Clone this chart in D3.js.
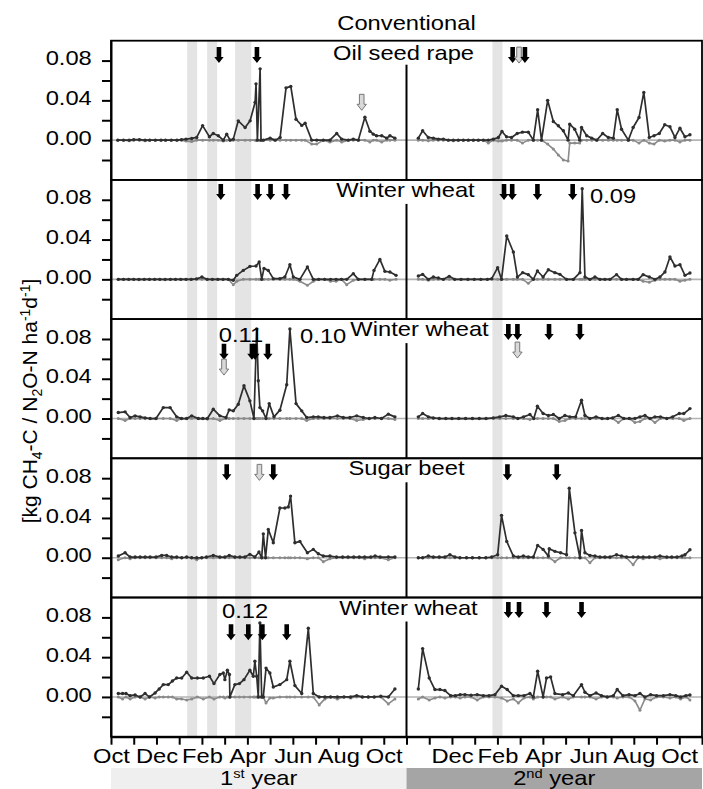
<!DOCTYPE html>
<html lang="en">
<head>
  <meta charset="UTF-8">
  <title>Conventional – CH4-C / N2O-N fluxes</title>
  <style>
    html, body {
      margin: 0;
      padding: 0;
      background: #fff;
    }

    svg {
      display: block;
      font-family: "Liberation Sans", Arial, sans-serif;
    }

    .band { fill: #e4e4e4; }
    .zero { stroke: #b4b4b4; stroke-width: 1.6; }
    .n2o { fill: none; stroke: #2e2e2e; stroke-width: 1.7; stroke-linejoin: round; }
    .n2o-dot { fill: #2e2e2e; }
    .ch4 { fill: none; stroke: #8a8a8a; stroke-width: 1.6; stroke-linejoin: round; }
    .ch4-dot { fill: #8a8a8a; }
    .frame { fill: none; stroke: #000; stroke-width: 1.8; }
    .divider { stroke: #000; stroke-width: 2; }
    .arrow-b { fill: #000; }
    .arrow-g { fill: #d9d9d9; stroke: #777; stroke-width: 1; }
    .axis path, .axis line { stroke: #000; stroke-width: 2; }
    text { font-size: 21px; fill: #000; }
  </style>
</head>
<body>
  <script src="https://d3js.org/d3.v7.min.js"></script>
  <script>
    // month index: 0 = Oct of the 1st year ... 13 = Oct of the 2nd year ... 26 = Nov
    const panelTitles = ['Oil seed rape', 'Winter wheat', 'Winter wheat', 'Sugar beet', 'Winter wheat']

    const bandStarts = [3.35, 4.23, 5.46, 16.78]
    const bandEnds   = [3.79, 4.67, 6.17, 17.22]

    const tickMonths = [0, 2, 4, 6, 8, 10, 12, 15, 17, 19, 21, 23, 25]
    const tickLabels = ['Oct', 'Dec', 'Feb', 'Apr', 'Jun', 'Aug', 'Oct', 'Dec', 'Feb', 'Apr', 'Jun', 'Aug', 'Oct']
    const yTicks = [-0.02, 0, 0.02, 0.04, 0.06, 0.08]
    const yLabelled = [0, 0.04, 0.08]

    // ---- Oil seed rape
    const p1Months = [
      0.3,0.55,0.8,1.0,1.25,1.5,1.7,1.95,2.2,2.4, 2.65,2.9,3.1,3.3,3.55,3.77,4.03,4.33,4.5,4.72,
      4.94,5.09,5.24,5.38,5.6,5.9,6.12,6.34,6.38,6.44, 6.56,6.6,6.7,7.0,7.22,7.44,7.7,7.91,8.14,8.39,
      8.54,8.83,9.05,9.34,9.63,9.93,10.15,10.44,10.66,10.88, 11.17,11.39,11.54,11.68,11.91,12.13,12.27,12.49,
      13.52,13.71,13.96,14.18,14.4,14.62,14.84,15.06,15.28,15.5, 15.72,15.94,16.16,16.38,16.6,16.82,17.04,17.2,17.4,17.62,
      17.87,18.1,18.36,18.58,18.77,18.94,19.21,19.46,19.68,19.9, 20.11,20.18,20.4,20.62,20.7,20.93,21.15,21.37,21.63,21.88,
      22.1,22.27,22.46,22.76,22.97,23.23,23.44,23.68,23.89,24.12, 24.36,24.59,24.81,25.03,25.25,25.47
    ]
    const p1N2O = [
      0,0,0,0.0005,0.0005,0,0,0,0,0, 0,0,0.0005,0.001,0.0017,0.0027,0.0146,0.0034,0.0067,0.0044,
      0,0.006,0,0.001,0.0194,0.0127,0.0194,0.038,0.0566,0, 0.0717,0,0,0.002,0,0.0027,0.0526,0.054,0.021,0.0148,
      0.017,0,0,0,0,0.0067,0.001,0,0.001,0, 0.023,0.009,0.006,0.0044,0.0044,0.002,0.0044,0.002,
      0.002,0.0094,0.0027,0.002,0.001,0.001,0,0,0,0, 0,0,0,0,0,0.001,0.0027,0.0087,0.0034,0.0027,
      0.0067,0.008,0.008,0,0.0305,0,0.040,0.0188,0.0144,0.0094, 0,0.016,0.011,0,0.0127,0.0044,0.002,0,0.0067,0.0027,
      0.002,0.0305,0.011,0,0.0127,0.0228,0.048,0.0027,0.0044,0.0067, 0.0154,0.0134,0.0027,0.012,0.0034,0.0054
    ]
    const p1CH4 = [
      0,0,-0.0005,0,0,-0.0005,0,0,0,0, 0,0,0,-0.001,-0.0015,0,0,0,0,0,
      -0.001,0,0,0,0,0,0,0,0,0, 0,0,0,0,0,0,0,0,0,0,
      0,-0.004,-0.004,0,-0.002,0,-0.002,0,0,0, 0,-0.002,0,0,-0.002,0,0,0,
      0,0,-0.0005,0,0,0,0,-0.0005,0,0, 0,0,0,0,-0.003,0,-0.001,-0.001,0,0,
      0,-0.003,0,0,0,0,-0.004,-0.009,-0.015,-0.02, -0.021,-0.003,-0.003,-0.003,0,0,0,0,0,0,
      0,0,0,0,0,-0.003,0,-0.003,-0.004,0, -0.001,0,0,-0.002,0,0
    ]
    const p1Arrows = [[4.75,'b',0.0775],[6.42,'b',0.0775],[11.03,'g',0.030],[17.67,'b',0.0775],[17.95,'g',0.0775],[18.21,'b',0.0775]]

    // ---- Winter wheat (2)
    const p2Months = [
      0.32,0.55,0.78,1.0,1.23,1.46,1.69,1.92,2.15,2.38, 2.61,2.84,3.07,3.3,3.53,3.76,4.0,4.23,4.46,4.7,
      4.93,5.16,5.38,5.53,5.82,6.11,6.38,6.52,6.63,6.73, 6.92,7.14,7.43,7.65,7.87,8.02,8.31,8.64,8.9,9.14,
      9.4,9.66,9.9,10.14,10.37,10.66,10.88,11.17,11.47,11.57, 11.83,12.05,12.27,12.54,
      13.52,13.71,13.96,14.18,14.4,14.62,14.88,15.12,15.4,15.7, 15.98,16.27,16.56,16.75,17.01,17.18,17.41,17.7,17.88,18.11,
      18.36,18.58,18.76,19.01,19.24,19.53,19.75,20.04,20.34,20.63, 20.73,20.85,21.07,21.29,21.51,21.73,21.95,22.24,22.46,22.68,
      22.97,23.19,23.41,23.68,23.93,24.15,24.37,24.59,24.81,25.03, 25.25,25.47
    ]
    const p2N2O = [
      0,0,0,0,0,0,0,0,0,0, 0,0,0,0,0,0.0005,0.0023,0,0,0,
      0,0,-0.001,0.004,0.009,0.013,0.0134,0.0174,0,0.011, 0.009,0.0007,0.0007,0.0023,0.0147,0.0023,0,0.0124,0,0,
      0,0,0,0,0,0.0057,0,0,0,0.009, 0.020,0.008,0.0074,0.004,
      0.0034,0.005,0,0.0023,0.0013,0,0.003,0,0,0, 0,0,0,0.0007,0.0117,0,0.0436,0.0275,0.0023,0.0067,
      0.0047,0,0.0084,0.0023,0.0097,0.0067,0.005,0,0,0.0067, 0.0912,0.0023,0,0.0023,0,0,0,0.0047,0,0,
      0,0,0.0047,0.0023,0,0.0023,0.0074,0.0225,0.0134,0.0147, 0.004,0.0064
    ]
    const p2CH4 = [
      0,0,0,0,-0.0005,0,0,0,0,-0.0005, 0,0,0,0,0,0,0,0,0,0,
      0,0,-0.0054,-0.002,0,0,0,0,0,0, 0,0,0,0,0,0,-0.002,-0.006,-0.002,0,
      0,-0.002,-0.002,0,-0.0054,-0.001,0,0,0,0, 0,0,-0.001,0,
      0,0,-0.001,0,0,0,0,0,0,0, 0,0,0,0,0,0,0,0,0,0,
      -0.004,0,0,0,0,0,0,0,0,0, 0,0,0,0,0,0,0,0,0,0,
      0,0,-0.002,-0.003,-0.001,0,0,0,0,-0.002, -0.001,0
    ]
    const p2Arrows = [[4.83,'b',0.0798],[6.45,'b',0.0798],[7.02,'b',0.0798],[7.7,'b',0.0798],
      [17.29,'b',0.0798],[17.65,'b',0.0798],[18.76,'b',0.0798],[20.31,'b',0.0798]]

    // ---- Winter wheat (3)
    const p3Months = [
      0.32,0.62,0.84,1.06,1.28,1.5,1.72,1.98,2.3,2.6, 2.89,3.1,3.33,3.55,3.84,4.04,4.24,4.5,4.79,5.06,
      5.2,5.38,5.6,5.85,6.11,6.29,6.41,6.48,6.55,6.67, 6.82,6.96,7.17,7.43,7.73,7.87,8.14,8.39,8.61,8.9,
      9.12,9.37,9.63,9.96,10.22,10.51,10.81,11.1,11.36,11.61, 11.9,12.2,12.49,
      13.52,13.71,13.96,14.18,14.44,14.73,15.0,15.3,15.6,15.9, 16.2,16.5,16.82,17.1,17.37,17.7,17.9,18.15,18.43,18.6,
      18.76,19.01,19.24,19.46,19.72,19.97,20.19,20.44,20.7,20.85, 21.07,21.34,21.6,21.85,22.07,22.32,22.56,22.8,23.05,23.27,
      23.49,23.71,23.93,24.17,24.45,24.71,25.0,25.2,25.47
    ]
    const p3N2O = [
      0.006,0.0067,0.001,0.0027,0.0017,0.0007,0,0,0.011,0.011, 0.0017,0,0,0.0027,0,0,0,0.0094,0.0027,0.001,
      0.0087,0.0077,0.0144,0.0329,0.0178,0,0.09,0.038,0.011,0.0077, 0,0.015,0.0017,0.0084,0.0339,0.09,0.015,0.0077,0.001,0.0017,
      0.0017,0.001,0.001,0.0027,0.001,0.001,0.0027,0.001,0,0.001, 0,0.0044,0.0017,
      0.0017,0.005,0.0017,0.0007,0,0,0,0,0,0, 0,0,0.0007,0.0017,0.003,0.0017,0,0.0017,0.004,0,
      0.0124,0.005,0.003,0.004,0,0.003,0.0017,0.0017,0.0184,0.003, 0,0.0017,0,0,0.0007,0.003,0,0,0,0.0017,
      0.003,0,0.0017,0.0017,0,0.0017,0.005,0.005,0.01
    ]
    const p3CH4 = [
      0,-0.002,0,0,0,0,0,0,0,0, -0.002,0,0,0,0,0,-0.0005,0,-0.002,0,
      0,0,0,0,0,0,0,0,0,0, 0,0,0,0,0,0,0,0,-0.002,0,
      0,0,0,0,0,0,-0.002,-0.001,0,0, 0,0,-0.001,
      0,0,0,0,0,0,0,0,0,0, 0,0,0,0,0,0,0,0,-0.001,0,
      0,0,0,0,-0.003,-0.002,0,0,0,0, 0,0,0,0,0,-0.004,0,0,-0.004,-0.003,
      0,0,-0.004,0,0,0,0,-0.002,0
    ]
    const p3Arrows = [[4.97,'b',0.059],[4.97,'g',0.0437],[6.2,'b',0.059],[6.33,'b',0.059],[6.9,'b',0.059],
      [17.48,'b',0.079],[17.88,'b',0.079],[17.88,'g',0.0608],[19.27,'b',0.079],[20.63,'b',0.079]]

    // ---- Sugar beet
    const p4Months = [
      0.32,0.62,0.84,1.06,1.28,1.5,1.72,1.98,2.23,2.45, 2.67,2.89,3.11,3.33,3.55,3.77,3.99,4.2,4.5,4.79,
      5.01,5.2,5.45,5.67,5.89,6.11,6.33,6.51,6.63,6.7, 6.8,6.92,7.14,7.43,7.65,7.8,7.9,8.09,8.31,8.64,
      8.9,9.12,9.34,9.63,9.92,10.19,10.43,10.68,10.92,11.16, 11.43,11.62,11.84,12.2,12.49,
      13.52,13.71,13.96,14.18,14.44,14.69,14.91,15.13,15.35,15.64, 15.9,16.2,16.49,16.75,17.01,17.18,17.41,17.7,17.92,18.14,
      18.36,18.58,18.77,19.01,19.24,19.28,19.53,19.78,20.04,20.16, 20.41,20.63,20.7,20.85,21.07,21.29,21.51,21.73,21.95,22.24,
      22.46,22.68,22.97,23.19,23.41,23.68,23.93,24.15,24.45,24.67, 24.9,25.12,25.25,25.47
    ]
    const p4N2O = [
      0.0017,0.005,0.0007,0.0007,0.0007,0.0007,0.0007,0.0007,0.0023,0.0023, 0.0007,0.0007,0,0.0007,0,0,0,0.0007,0.0023,0.0007,
      0.0007,0.0023,0.0007,0.0007,0.0007,0.0034,0.0007,0.0057,0,0.024, 0,0.0285,0.015,0.050,0.050,0.051,0.062,0.015,0.0164,0.005,
      0.0084,0.004,0.0017,0.0017,0.0007,0.0007,0.0007,0.0007,0.0007,0.0007, 0.0007,0.0017,0.0007,0.0007,0.0007,
      0,0,0.0017,0.0007,0.0007,0.0007,0.003,0.0007,0,0, 0,0,0,0.0007,0.003,0.0426,0.0164,0.0017,0.0007,0.0017,
      0.0007,0.0007,0.0124,0.0084,0.0017,0.009,0.0064,0.005,0.003,0.070, 0.025,0,0.0275,0.005,0.0023,0.0017,0.0007,0.0007,0.0007,0.003,
      0.0017,0.0007,0.0007,0.0007,0.0007,0.0007,0.0007,0.0017,0.0007,0.0007, 0.0007,0.0017,0.003,0.008
    ]
    const p4CH4 = [
      -0.002,0,-0.001,0,0,0,0,0,0,0, -0.001,0,0,0,0,-0.002,0,0,0,0,
      0,0,0,0,0,0,0,0,0,0, 0,0,0,0,0,0,0,0,0,-0.001,
      0,0,-0.004,-0.001,0,0,0,0,0,-0.001, 0,0,0,-0.002,0,
      0,0,0,0,0,0,0,0,0,0, 0,0,0,0,0,0,0,0,0,0,
      0,0,0,0,0,0,-0.004,0,0,0, 0,0,0,0,-0.005,0,0,0,0,0,
      0,0,-0.007,0,-0.001,0,0,-0.001,0,0, 0,0,0,0
    ]
    const p4Arrows = [[5.09,'b',0.0778],[6.53,'g',0.0778],[7.14,'b',0.0778],[17.44,'b',0.0778],[19.61,'b',0.0778]]

    // ---- Winter wheat (5)
    const p5Months = [
      0.32,0.51,0.66,0.84,1.06,1.28,1.5,1.69,1.94,2.12, 2.3,2.52,2.7,2.89,3.11,3.33,3.55,3.8,4.06,4.33,
      4.53,4.79,4.94,5.01,5.12,5.21,5.23,5.45,5.65,5.85, 6.11,6.26,6.33,6.41,6.48,6.55,6.63,6.7,6.82,6.99,
      7.14,7.43,7.73,7.87,8.09,8.39,8.68,8.9,9.16,9.41, 9.66,9.96,10.25,10.54,10.81,11.06,11.32,11.58,11.87,12.2,
      12.49,
      13.52,13.71,14.0,14.25,14.47,14.69,14.94,15.15,15.36,15.57, 15.84,16.11,16.38,16.63,16.89,17.18,17.43,17.7,17.92,18.17,
      18.43,18.58,18.77,19.01,19.16,19.34,19.53,19.87,20.12,20.34, 20.7,20.85,21.07,21.34,21.58,21.83,22.1,22.27,22.52,22.79,
      23.05,23.27,23.49,23.74,24.0,24.3,24.59,24.85,25.06,25.29, 25.47
    ]
    const p5N2O = [
      0.0034,0.0034,0.0034,0.0013,0.002,0,0.0034,0,0.004,0.008, 0.0124,0.0124,0.016,0.019,0.019,0.0248,0.019,0.019,0.019,0.0208,
      0.0134,0.0225,0.024,0.0174,0.0268,0.0225,0,0.0124,0.0134,0.0174, 0.0268,0.0208,0.0359,0.0208,0,0.0744,0,0,0.029,0.024,
      0.010,0.0124,0.0174,0.0359,0.0114,0.0034,0.069,0.0034,0,0, 0,0,0,0,0.0013,0,0,0,0.0007,0,
      0.008,
      0.008,0.0486,0.019,0.0074,0.0074,0.0064,0.0013,0.0013,0.0023,0.0023, 0.0017,0.0023,0.0013,0.0013,0.0023,0.0107,0.0074,0.0013,0.0013,0.0013,
      0.0034,0,0.0258,0,0.019,0.020,0.0034,0.0023,0.004,0.0013, 0.0124,0.0047,0.0013,0.004,0.0013,0,0.0013,0.0074,0.0013,0.0023,
      0.0013,0.0034,0,0.0023,0.0013,0.0013,0.0023,0.0013,0,0.0013, 0.002
    ]
    const p5CH4 = [
      0,-0.002,0,-0.002,0,0,-0.002,0,-0.001,0, 0,0,0,-0.002,-0.002,-0.003,-0.002,0,-0.002,0,
      -0.002,0,0,-0.001,0,0,0,0,0,0, 0,0,0,0,0,0,0,0,-0.006,-0.001,
      -0.001,0,0,0,0,0,0,0,-0.008,-0.002, 0,-0.002,0,-0.001,0,0,0,0,0,-0.007,
      -0.002,
      -0.002,0,-0.003,-0.001,0,-0.001,0,0,-0.001,0, 0,-0.003,0,0,0,-0.001,-0.004,-0.002,-0.006,-0.001,
      0,-0.002,0,0,0,0,-0.002,0,-0.002,0, 0,0,0,-0.002,0,0,0,-0.001,0,0,
      -0.004,-0.0134,-0.002,-0.003,0,0,-0.001,0,-0.002,0, -0.003
    ]
    const p5Arrows = [[5.28,'b',0.0571],[6.04,'b',0.0571],[6.66,'b',0.0571],[7.73,'b',0.0571],
      [17.48,'b',0.0793],[17.95,'b',0.0793],[19.16,'b',0.0793],[20.7,'b',0.0793]]

    // values of the spikes that run off the drawn range: [panel, month, value, text, anchor]
    const spikeNotes = [
      [1, 21.07, 0.0767, '0.09', 'start'],
      [2, 5.72, 0.0771, '0.11', 'middle'],
      [2, 8.32, 0.0758, '0.10', 'start'],
      [4, 5.9, 0.079, '0.12', 'middle']
    ]

    const panels = [
      [p1Months, p1N2O, p1CH4, p1Arrows],
      [p2Months, p2N2O, p2CH4, p2Arrows],
      [p3Months, p3N2O, p3CH4, p3Arrows],
      [p4Months, p4N2O, p4CH4, p4Arrows],
      [p5Months, p5N2O, p5CH4, p5Arrows]
    ]

    const svgW = 703,
          svgH = 789,
          plotL = 111,
          plotR = 702,
          plotT = 40.7,
          panelH = 139.2,
          plotB = plotT + 5 * panelH,
          stretch = 1.13   // the glyphs of the original are a bit wider than Arial

    // small nudges of the panel titles (px); the third one makes room for "0.10"
    const titleNudge = [-3, -1, 13, 0, 2]

    const svg = d3.select('body').append('svg')
      .attr('width', svgW)
      .attr('height', svgH)

    const x = d3.scaleLinear().domain([0, 26]).range([plotL, plotR])

    const addText = (g, str, px, py, anchor) => g.append('text')
      .attr('transform', `translate(${px},${py}) scale(${stretch},1)`)
      .attr('text-anchor', anchor)
      .text(str)

    // grey bands behind everything
    svg.append('g').selectAll('rect')
      .data(bandStarts)
      .join('rect')
        .attr('class', 'band')
        .attr('x', d => x(d))
        .attr('width', (d, i) => x(bandEnds[i]) - x(d))
        .attr('y', plotT)
        .attr('height', plotB - plotT)

    const drawArrow = (g, cx, tipY, kind) => {
      const d = `M${cx - 2.3},${tipY - 16} h4.6 v10 h2.4 L${cx},${tipY} L${cx - 4.7},${tipY - 6} h2.4 Z`
      g.append('path').attr('d', d).attr('class', kind === 'b' ? 'arrow-b' : 'arrow-g')
    }

    panels.forEach(([months, n2o, ch4, arrows], i) => {
      if (months.length !== n2o.length || months.length !== ch4.length) {
        throw new Error(`panel ${i + 1}: ${months.length} months, ${n2o.length} n2o, ${ch4.length} ch4`)
      }
      const y0 = plotT + i * panelH
      const y = d3.scaleLinear().domain([-0.04, 0.10]).range([y0 + panelH, y0])
      const g = svg.append('g')

      g.append('line').attr('class', 'zero')
        .attr('x1', plotL).attr('x2', plotR)
        .attr('y1', y(0)).attr('y2', y(0))

      const rows = months.map((m, k) => ({ m, n2o: n2o[k], ch4: ch4[k] }))
      const halves = [rows.filter(d => d.m < 13), rows.filter(d => d.m >= 13)]

      ;['ch4', 'n2o'].forEach(key => {
        const line = d3.line().x(d => x(d.m)).y(d => y(d[key]))
        halves.forEach(half => {
          g.append('path').datum(half).attr('class', key).attr('d', line)
          g.append('g').selectAll('circle')
            .data(half)
            .join('circle')
              .attr('class', `${key}-dot`)
              .attr('cx', d => x(d.m))
              .attr('cy', d => y(d[key]))
              .attr('r', key === 'n2o' ? 1.7 : 1.5)
        })
      })

      g.append('rect').attr('class', 'frame')
        .attr('x', plotL).attr('y', y0)
        .attr('width', plotR - plotL).attr('height', panelH)

      g.append('line').attr('class', 'divider')
        .attr('x1', x(13)).attr('x2', x(13))
        .attr('y1', y0 + 24).attr('y2', y0 + panelH)

      arrows.forEach(([m, kind, v]) => drawArrow(g, x(m), y(v), kind))

      addText(g, panelTitles[i], x(13) + titleNudge[i], y0 + (i === 0 ? 19 : 17), 'middle')

      spikeNotes.filter(n => n[0] === i)
        .forEach(([, m, v, str, anchor]) => addText(g, str, x(m), y(v), anchor))

      const axis = g.append('g').attr('class', 'axis')
        .attr('transform', `translate(${plotL},0)`)
        .call(d3.axisLeft(y)
          .tickValues(yTicks)
          .tickSize(9)
          .tickSizeOuter(0)
          .tickPadding(8)
          .tickFormat(d => yLabelled.includes(d) ? d3.format('.2f')(d) : ''))
      axis.selectAll('text')
        .attr('font-family', null).attr('font-size', null)
        .attr('dy', '0.2em')
        .attr('transform', `scale(${stretch},1)`)
    })

    // month axis
    const xAxis = svg.append('g').attr('class', 'axis')
      .attr('transform', `translate(0,${plotB})`)
      .call(d3.axisBottom(x)
        .tickValues(d3.range(0, 27))
        .tickSize(8)
        .tickSizeOuter(0)
        .tickPadding(3)
        .tickFormat(d => {
          const k = tickMonths.indexOf(d)
          return k < 0 ? '' : tickLabels[k]
        }))
    xAxis.selectAll('text')
      .attr('font-family', null).attr('font-size', null)
      .attr('transform', `scale(${stretch},1)`)

    // year bar
    const years = svg.append('g')
    years.append('rect').attr('x', x(0)).attr('y', 768).attr('width', x(13) - x(0)).attr('height', 21).attr('fill', '#efefef')
    years.append('rect').attr('x', x(13)).attr('y', 768).attr('width', x(26) - x(13)).attr('height', 21).attr('fill', '#a5a5a5')
    ;[['1', 'st', 6.5], ['2', 'nd', 19.5]].forEach(([n, sup, m]) => {
      const t = years.append('text')
        .attr('transform', `translate(${x(m)},785) scale(${stretch},1)`)
        .attr('text-anchor', 'middle')
      t.append('tspan').text(n)
      t.append('tspan').attr('dy', -7).style('font-size', '13px').text(sup)
      t.append('tspan').attr('dy', 7).text(' year')
    })

    // header
    addText(svg, 'Conventional', x(13), 30, 'middle')

    // y label
    const yl = svg.append('text')
      .attr('transform', 'translate(37,401) rotate(-90)')
      .attr('text-anchor', 'middle')
    ;[['[kg CH', 0], ['4', 5], ['-C / N', -5], ['2', 5], ['O-N ha', -5], ['-1', -7], ['d', 7], ['-1', -7], [']', 7]]
      .forEach(([s, dy]) => {
        const small = (s === '4' || s === '2' || s === '-1')
        yl.append('tspan').attr('dy', dy).style('font-size', small ? '14px' : null).text(s)
      })
  </script>
</body>
</html>
